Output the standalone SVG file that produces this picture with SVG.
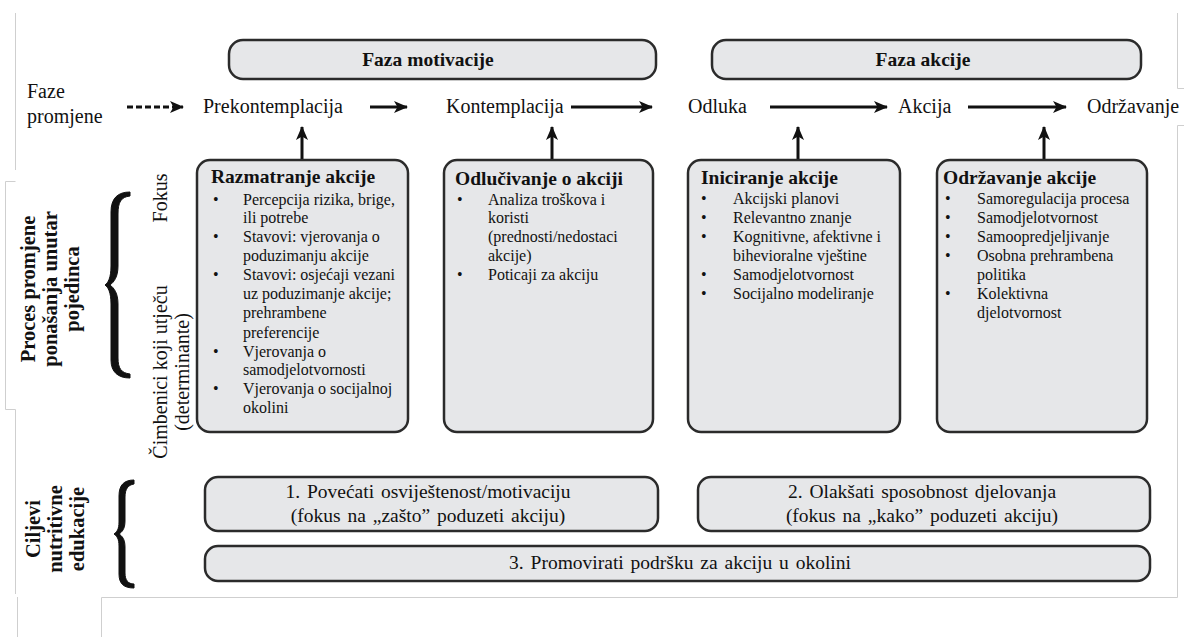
<svg xmlns="http://www.w3.org/2000/svg" width="1184" height="637" viewBox="0 0 1184 637" font-family="'Liberation Serif', 'Times New Roman', Times, serif">
<defs>
<marker id="ah" viewBox="0 0 14 12" refX="13" refY="6" markerWidth="14" markerHeight="12" markerUnits="userSpaceOnUse" orient="auto">
<path d="M0,0 L14,6 L0,12 L3.5,6 Z" fill="#111"/>
</marker>
<style>
text{font-family:'Liberation Serif','Times New Roman',Times,serif;fill:#111}
.box{fill:#e6e7e9;stroke:#2b2b2b;stroke-width:2.5}
.ph{font-size:20px}
.hd{font-size:19.5px;font-weight:bold;text-anchor:middle}
.tt{font-size:19.5px;font-weight:bold}
.bl{font-size:16px}
.rot{font-size:20.5px;font-weight:bold;text-anchor:middle}
.rl{font-size:20px;text-anchor:middle}
.bt{font-size:19.5px;text-anchor:middle;word-spacing:2px}
.arr{stroke:#111;stroke-width:3;fill:none;marker-end:url(#ah)}
.frame{stroke:#cfcfcf;stroke-width:1;fill:none}
.brace{fill:#111;stroke:#111;stroke-width:1}
</style>
</defs>

<g id="frame">
<path class="frame" d="M15.5,13 V170"/>
<path class="frame" d="M15.5,181.5 H5.5 V409.5 H15.5 V594"/>
<path class="frame" d="M17.5,597 V637"/>
<path class="frame" d="M101.5,637 V597.5 H1177.5 V125.5 H1184"/>
<path class="frame" d="M1177.5,13 V88.5 H1184"/>
</g>

<g id="phase-motivation">
<rect class="box" x="229" y="40" width="427" height="39" rx="14"/>
<text class="hd" x="428" y="66">Faza motivacije</text>
</g>
<g id="phase-action">
<rect class="box" x="712" y="40" width="429" height="39" rx="14"/>
<text class="hd" x="923" y="66">Faza akcije</text>
</g>

<g id="label-faze">
<text class="ph" x="27" y="98">Faze</text>
<text class="ph" x="27" y="123">promjene</text>
</g>
<g id="stage-prekontemplacija"><text class="ph" x="203" y="113">Prekontemplacija</text></g>
<g id="stage-kontemplacija"><text class="ph" x="446" y="113">Kontemplacija</text></g>
<g id="stage-odluka"><text class="ph" x="688" y="113">Odluka</text></g>
<g id="stage-akcija"><text class="ph" x="898" y="113">Akcija</text></g>
<g id="stage-odrzavanje"><text class="ph" x="1087" y="113">Održavanje</text></g>

<g id="connectors">
<line class="arr" x1="127" y1="107" x2="183" y2="107" stroke-dasharray="6,3"/>
<line class="arr" x1="370" y1="107" x2="407" y2="107"/>
<line class="arr" x1="571" y1="107" x2="652" y2="107"/>
<line class="arr" x1="770" y1="107" x2="887" y2="107"/>
<line class="arr" x1="968" y1="107" x2="1066" y2="107"/>
<line class="arr" x1="302" y1="160" x2="302" y2="127"/>
<line class="arr" x1="552" y1="160" x2="552" y2="127"/>
<line class="arr" x1="798" y1="160" x2="798" y2="127"/>
<line class="arr" x1="1044" y1="160" x2="1044" y2="127"/>
</g>

<g id="label-proces">
<text class="rot" transform="translate(35,289) rotate(-90)">Proces  promjene</text>
<text class="rot" transform="translate(57,289) rotate(-90)">ponašanja  unutar</text>
<text class="rot" transform="translate(79,289) rotate(-90)">pojedinca</text>
</g>
<g id="brace-proces">
<path class="brace" d="M130,192 C118,192 111,198 111,212 L111,266 C111,278 108,283 105,285 C108,287 111,292 111,304 L111,360 C111,372 118,378 130,378 L130,374 C121,373 118,368 118,358 L118,304 C118,293 114,288 110,285 C114,282 118,277 118,266 L118,214 C118,202 121,197 130,196 Z"/>
</g>
<g id="label-fokus">
<text class="rl" transform="translate(167,198) rotate(-90)">Fokus</text>
</g>
<g id="label-cimbenici">
<text class="rl" transform="translate(167,372) rotate(-90)">Čimbenici koji utječu</text>
<text class="rl" transform="translate(189,372) rotate(-90)">(determinante)</text>
</g>

<g id="box-razmatranje">
<rect class="box" x="197" y="160" width="211" height="272" rx="13"/>
<text class="tt" x="211" y="183">Razmatranje  akcije</text>
<g class="bl">
<text x="213" y="205">•</text><text x="243" y="205">Percepcija rizika, brige,</text>
<text x="243" y="223">ili potrebe</text>
<text x="213" y="242">•</text><text x="243" y="242">Stavovi: vjerovanja o</text>
<text x="243" y="261">poduzimanju akcije</text>
<text x="213" y="280">•</text><text x="243" y="280">Stavovi: osjećaji vezani</text>
<text x="243" y="299">uz poduzimanje akcije;</text>
<text x="243" y="318">prehrambene</text>
<text x="243" y="338">preferencije</text>
<text x="213" y="357">•</text><text x="243" y="357">Vjerovanja o</text>
<text x="243" y="375">samodjelotvornosti</text>
<text x="213" y="394">•</text><text x="243" y="394">Vjerovanja o socijalnoj</text>
<text x="243" y="413">okolini</text>
</g>
</g>

<g id="box-odlucivanje">
<rect class="box" x="444" y="160" width="209" height="272" rx="13"/>
<text class="tt" x="455" y="185">Odlučivanje o akciji</text>
<g class="bl">
<text x="457" y="205">•</text><text x="488" y="205">Analiza troškova i</text>
<text x="488" y="223">koristi</text>
<text x="488" y="242">(prednosti/nedostaci</text>
<text x="488" y="261">akcije)</text>
<text x="457" y="280">•</text><text x="488" y="280">Poticaji za akciju</text>
</g>
</g>

<g id="box-iniciranje">
<rect class="box" x="688" y="160" width="212" height="272" rx="13"/>
<text class="tt" x="701" y="184">Iniciranje  akcije</text>
<g class="bl">
<text x="701" y="204">•</text><text x="733" y="204">Akcijski planovi</text>
<text x="701" y="223">•</text><text x="733" y="223">Relevantno znanje</text>
<text x="701" y="242">•</text><text x="733" y="242">Kognitivne, afektivne i</text>
<text x="733" y="261">bihevioralne vještine</text>
<text x="701" y="280">•</text><text x="733" y="280">Samodjelotvornost</text>
<text x="701" y="299">•</text><text x="733" y="299">Socijalno modeliranje</text>
</g>
</g>

<g id="box-odrzavanje">
<rect class="box" x="937" y="160" width="210" height="272" rx="13"/>
<text class="tt" x="943" y="184">Održavanje  akcije</text>
<g class="bl">
<text x="945" y="204">•</text><text x="977" y="204">Samoregulacija procesa</text>
<text x="945" y="223">•</text><text x="977" y="223">Samodjelotvornost</text>
<text x="945" y="242">•</text><text x="977" y="242">Samoopredjeljivanje</text>
<text x="945" y="261">•</text><text x="977" y="261">Osobna prehrambena</text>
<text x="977" y="280">politika</text>
<text x="945" y="299">•</text><text x="977" y="299">Kolektivna</text>
<text x="977" y="318">djelotvornost</text>
</g>
</g>

<g id="label-ciljevi">
<text class="rot" transform="translate(40,529) rotate(-90)">Ciljevi</text>
<text class="rot" transform="translate(62,529) rotate(-90)">nutritivne</text>
<text class="rot" transform="translate(84,529) rotate(-90)">edukacije</text>
</g>
<g id="brace-ciljevi">
<path class="brace" d="M134,480 C124,480 119,485 119,496 L119,522 C119,529 117,532 114,534 C117,536 119,539 119,546 L119,574 C119,584 124,588 134,588 L134,584 C128,584 125,580 125,573 L125,547 C125,539 122,536 119,534 C122,532 125,529 125,521 L125,497 C125,489 128,485 134,484 Z"/>
</g>

<g id="goal-1">
<rect class="box" x="205" y="477" width="453" height="54" rx="13"/>
<text class="bt" x="428" y="498">1. Povećati osviještenost/motivaciju</text>
<text class="bt" x="428" y="522">(fokus na „zašto” poduzeti akciju)</text>
</g>
<g id="goal-2">
<rect class="box" x="698" y="477" width="452" height="54" rx="13"/>
<text class="bt" x="922" y="498">2. Olakšati sposobnost djelovanja</text>
<text class="bt" x="922" y="522">(fokus na „kako” poduzeti akciju)</text>
</g>
<g id="goal-3">
<rect class="box" x="205" y="546" width="945" height="35" rx="13"/>
<text class="bt" x="680" y="569">3. Promovirati podršku za akciju u okolini</text>
</g>
</svg>
